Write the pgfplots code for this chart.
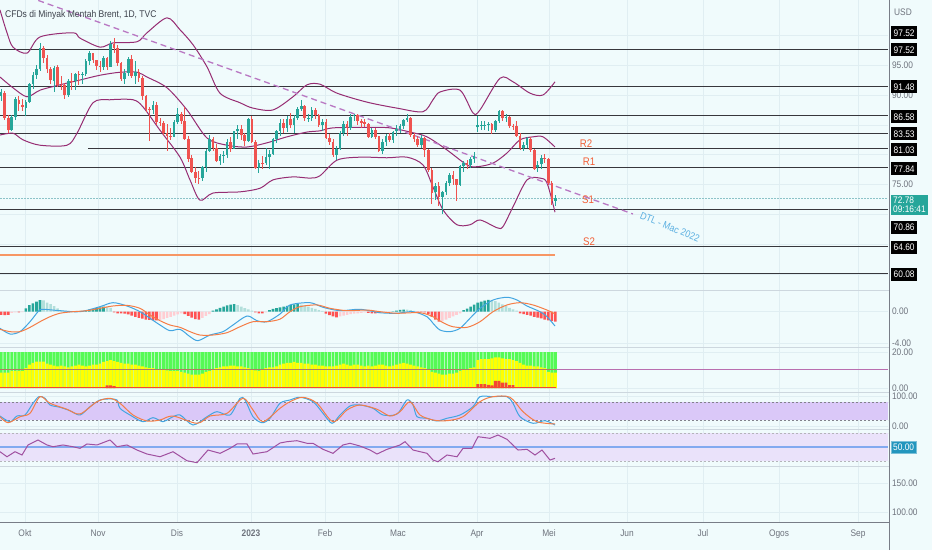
\documentclass[border=0pt]{standalone}
\usepackage{fontspec}
\setmainfont{Liberation Sans}[FakeStretch=0.88]
\usepackage{pgfplots}
\usepackage{pgfplotstable}
\pgfplotsset{compat=1.18}
\definecolor{bg}{RGB}{240,251,252}
\definecolor{gridc}{RGB}{224,238,242}
\definecolor{sepc}{RGB}{205,215,222}
\definecolor{cup}{RGB}{38,166,154}
\definecolor{cdn}{RGB}{239,83,80}
\definecolor{bbc}{RGB}{150,45,115}
\definecolor{tlc}{RGB}{185,120,195}
\definecolor{srlab}{RGB}{242,95,55}
\definecolor{dtlc}{RGB}{90,175,225}
\definecolor{lvl}{RGB}{55,55,60}
\definecolor{orl}{RGB}{247,150,100}
\definecolor{curp}{RGB}{140,195,200}
\definecolor{macdb}{RGB}{66,165,225}
\definecolor{macdo}{RGB}{245,125,70}
\definecolor{hA}{RGB}{38,166,154}
\definecolor{hB}{RGB}{178,223,219}
\definecolor{hC}{RGB}{255,82,82}
\definecolor{hD}{RGB}{255,205,210}
\definecolor{sqg}{RGB}{85,250,85}
\definecolor{sqy}{RGB}{255,255,0}
\definecolor{sqr}{RGB}{245,70,50}
\definecolor{sqbrown}{RGB}{175,125,95}
\definecolor{sqpurp}{RGB}{185,110,175}
\definecolor{stb}{RGB}{218,200,248}
\definecolor{stl}{RGB}{130,130,140}
\definecolor{rsib}{RGB}{234,226,250}
\definecolor{rsil}{RGB}{160,80,160}
\definecolor{rsimid}{RGB}{130,170,240}
\definecolor{labc}{RGB}{110,115,125}
\definecolor{titc}{RGB}{60,65,75}
\definecolor{tealbox}{RGB}{38,166,154}
\definecolor{rsibox}{RGB}{35,150,190}
\definecolor{axc}{RGB}{120,125,135}
\newcommand\lab{\fontsize{9.5}{10}\selectfont}

\pgfplotstableread{
i o h l c sq r m k
-11 89.8 91.0 89.0 90.46 8.5 0 -0.40 3
-10 90.3 90.6 85.8 86.15 8.5 0 -0.45 3
-9 86.1 86.6 83.7 84.06 8.5 0 -0.40 3
-8 84.1 86.6 83.9 86.27 9.5 0 -0.15 4
-7 86.3 89.6 85.8 89.32 9.5 0 -0.10 4
-6 89.2 89.9 87.3 88.49 9.5 0 -0.10 3
-5 88.4 89.4 87.3 87.96 9.5 0 -0.05 4
-4 87.9 89.2 86.5 88.86 11 0 0.43 1
-3 88.9 92.0 88.6 91.80 13 0 0.85 1
-2 91.8 93.9 91.0 93.37 14 0 1.06 1
-1 93.4 95.0 92.6 94.42 14.6 0 1.28 1
0 94.4 98.7 94.0 97.92 14.6 0 1.49 1
1 97.9 98.2 95.4 96.19 14.6 0 1.45 2
2 96.2 96.7 93.6 94.29 13.5 0 1.15 2
3 94.3 94.6 91.8 92.45 13 0 0.98 2
4 92.4 94.9 90.5 94.57 12.5 0 0.72 2
5 94.6 95.0 91.4 91.63 12 0 0.43 2
6 91.7 93.2 90.8 91.62 12.5 0 0.21 2
7 91.6 92.0 89.4 90.03 12 0 0.10 2
8 90.0 92.6 89.6 92.41 11.5 0 0.08 2
9 92.4 93.6 90.8 92.38 12 0 0.05 2
10 92.4 93.7 90.9 93.50 12.5 0 0.06 1
11 93.5 94.0 91.7 93.26 13 0 0.08 1
12 93.3 93.9 91.9 93.52 12.5 0 0.10 1
13 93.5 96.0 93.2 95.69 12 0 0.15 1
14 95.7 97.3 95.0 96.96 12.5 0 0.25 1
15 97.0 97.0 95.4 95.77 13 0 0.35 1
16 95.8 95.9 94.2 94.83 13 0 0.45 1
17 94.8 95.6 93.9 94.65 13.5 0 0.55 1
18 94.7 96.5 94.2 96.16 14.5 0 0.64 1
19 96.2 96.4 94.2 94.67 15 1.5 0.60 2
20 94.7 99.0 94.6 98.57 15.5 1.5 0.50 2
21 98.6 99.6 97.1 97.92 15 1.0 -0.10 3
22 97.9 98.4 94.9 95.36 14.5 0 -0.20 3
23 95.4 95.5 92.3 92.65 14 0 -0.20 3
24 92.7 94.3 91.9 93.67 13.5 0 -0.25 3
25 93.7 96.3 93.2 95.99 13.5 0 -0.35 3
26 96.0 96.7 92.9 93.14 13 0 -0.50 3
27 93.1 95.6 91.8 93.86 13 0 -0.65 3
28 93.9 94.3 92.2 92.86 12.5 0 -0.80 3
29 92.9 93.1 89.2 89.78 12 0 -0.90 3
30 89.8 90.0 87.2 87.62 11.5 0 -1.00 3
31 87.6 88.0 82.3 87.45 11 0 -1.06 3
32 87.5 89.0 86.9 88.36 11 0 -1.10 3
33 88.4 88.9 84.9 85.41 10.5 0 -1.10 3
34 85.4 86.1 84.8 85.34 10.5 0 -1.05 4
35 85.3 85.6 83.3 83.63 10 0 -0.95 4
36 83.6 85.2 80.6 83.19 9.8 0 -0.80 4
37 83.2 84.4 82.4 83.03 9.5 0 -0.65 4
38 83.0 85.8 82.9 85.43 9.5 0 -0.50 4
39 85.4 87.8 85.1 86.88 9.5 0 -0.35 4
40 86.9 87.2 85.1 85.57 9 0 -0.20 4
41 85.6 88.0 82.4 82.68 8.5 0 -0.30 3
42 82.7 83.1 78.8 79.35 8 0 -0.55 3
43 79.4 79.9 76.9 77.17 7.5 0 -0.75 3
44 77.2 77.9 75.2 76.15 7.5 0 -0.95 3
45 76.2 77.3 75.1 76.10 7.5 0 -1.00 3
46 76.1 78.2 75.6 77.99 8 0 -0.80 4
47 78.0 80.9 77.2 80.68 9 0 -0.55 4
48 80.7 83.3 80.4 82.70 9.5 0 -0.30 4
49 82.7 83.0 80.6 81.21 10 0 0.13 1
50 81.2 81.8 78.8 79.04 11 0 0.30 1
51 79.0 80.2 78.3 79.80 11.5 0 0.50 1
52 79.8 80.7 78.6 79.99 12 0 0.65 1
53 80.0 82.6 79.5 82.20 12 0 0.80 1
54 82.2 83.0 80.4 80.98 12.5 0 0.90 1
55 81.0 84.0 80.9 83.92 12.5 0 0.98 1
56 83.9 85.0 82.7 84.33 12 0 0.85 2
57 84.3 84.9 82.4 83.26 12 0 0.65 2
58 83.3 83.6 81.5 82.26 11.5 0 0.45 2
59 82.3 86.1 82.1 85.91 11 0 0.30 2
60 85.9 86.5 81.9 82.10 10.5 0 0.15 2
61 82.1 82.4 77.7 77.84 9.8 0 -0.10 3
62 77.8 79.2 77.0 78.69 9.5 0 -0.20 3
63 78.7 79.8 77.6 78.57 10 0 -0.20 3
64 78.6 81.2 78.3 79.65 11 0 -0.10 4
65 79.7 80.8 77.6 80.10 11.5 0 0.20 1
66 80.1 82.8 79.9 82.67 11.5 0 0.35 1
67 82.7 84.2 82.0 84.03 12 0 0.45 1
68 84.0 85.9 83.1 85.28 13 0 0.55 1
69 85.3 85.9 83.6 84.46 13.5 0 0.65 1
70 84.5 86.4 83.8 85.92 14 0 0.75 1
71 85.9 87.0 84.5 84.98 14 0 0.85 1
72 85.0 86.6 83.6 86.16 14.5 0 0.95 1
73 86.2 88.0 85.8 87.63 14 0 0.98 1
74 87.6 89.1 87.3 88.19 14 0 0.90 2
75 88.2 88.3 85.6 86.13 13.5 0 0.80 2
76 86.1 86.9 85.5 86.12 13.5 0 0.65 2
77 86.1 88.0 85.7 87.47 13 0 0.50 2
78 87.5 87.8 86.0 86.66 13 0 0.35 2
79 86.7 86.8 84.6 84.90 12.5 0 0.20 2
80 84.9 85.9 84.0 85.46 12.5 0 0.10 2
81 85.5 86.0 82.6 82.84 12 0 -0.25 3
82 82.8 83.4 81.7 82.17 12 0 -0.45 3
83 82.2 82.6 79.7 79.94 12 0 -0.60 3
84 80.0 81.4 79.2 80.99 12.5 0 -0.72 3
85 81.0 83.9 80.8 83.69 13 0 -0.60 4
86 83.7 85.6 83.1 85.09 13.5 0 -0.50 4
87 85.1 85.6 83.2 84.50 13 0 -0.40 4
88 84.5 86.9 84.2 86.39 12.5 0 -0.30 4
89 86.4 86.9 85.6 86.61 13 0 -0.25 4
90 86.6 86.8 84.9 85.58 13 0 -0.20 4
91 85.6 85.9 84.4 85.38 12.5 0 -0.15 4
92 85.4 86.0 84.6 85.14 12 0 -0.10 4
93 85.1 85.3 82.8 83.00 12.5 0 -0.15 3
94 83.0 84.4 82.8 84.07 12 0 -0.20 3
95 84.1 84.5 82.6 83.05 12.5 0 -0.22 3
96 83.1 83.2 80.4 80.60 13 0 -0.20 4
97 80.6 82.6 80.1 82.21 13 0 -0.15 4
98 82.2 83.5 81.4 83.16 12.5 0 -0.10 4
99 83.2 83.7 82.1 82.45 12 0 -0.05 4
100 82.5 84.0 82.0 83.89 12.5 0 0.05 1
101 83.9 84.9 83.2 84.31 13 0 0.15 1
102 84.3 85.2 83.6 84.75 13.5 0 0.22 1
103 84.8 86.0 84.3 85.83 14 0 0.25 1
104 85.8 86.8 85.4 86.18 13.5 0 0.25 2
105 86.2 86.3 83.0 83.29 13 0 0.20 2
106 83.3 83.6 82.2 82.66 12.5 0 0.10 2
107 82.7 83.2 81.3 81.59 12 0 -0.05 3
108 81.6 83.3 81.1 82.78 11.5 0 -0.05 3
109 82.8 83.0 79.6 80.77 11 0 -0.10 3
110 80.8 81.0 77.2 77.45 10.5 0 -0.30 3
111 77.5 77.8 71.7 73.69 9 0 -0.65 3
112 73.7 75.3 72.5 74.70 8.5 0 -1.00 3
113 74.7 75.5 71.4 72.97 8 0 -1.28 3
114 73.0 74.0 70.1 73.79 7.5 0 -1.20 4
115 73.8 75.6 73.2 75.32 7.5 0 -1.00 4
116 75.3 77.0 74.8 76.69 8 0 -0.80 4
117 76.7 77.3 74.9 75.91 8 0 -0.60 4
118 75.9 76.0 72.3 74.99 8.5 0 -0.40 4
119 75.0 78.3 74.8 78.12 9.5 0 -0.20 4
120 78.1 79.0 77.1 78.65 10 0 0.20 1
121 78.7 79.2 77.7 78.28 10.5 0 0.40 1
122 78.3 79.6 77.8 79.27 11 0 0.65 1
123 79.3 80.5 78.6 79.77 11.5 0 0.90 1
124 84.6 86.4 83.8 84.93 15.5 2.2 1.15 1
125 84.9 85.6 84.1 84.94 16 2.2 1.30 1
126 84.9 85.7 84.1 84.99 16 2.2 1.40 1
127 85.0 85.4 84.0 85.12 16 1.8 1.50 1
128 85.1 85.3 83.5 84.18 16.5 1.5 1.45 2
129 84.2 85.8 83.8 85.61 17 4.0 1.35 2
130 85.6 87.5 85.3 87.33 17 4.0 1.15 2
131 87.3 87.5 85.6 86.09 16.5 3.0 0.95 2
132 86.1 86.8 85.5 86.31 16 3.0 0.72 2
133 86.3 86.5 84.4 84.76 16 1.6 0.50 2
134 84.8 85.2 84.1 84.77 15.5 1.6 0.30 2
135 84.8 85.6 82.9 83.12 15 0 0.13 2
136 83.1 83.6 80.8 81.10 14 0 -0.20 3
137 81.1 82.2 80.6 81.66 13 0 -0.30 3
138 81.7 83.0 81.2 82.73 12.5 0 -0.40 3
139 82.7 83.0 80.4 80.77 12.5 0 -0.50 3
140 80.8 81.0 77.4 77.69 12 0 -0.65 3
141 78.0 79.0 77.2 78.37 12 0 -0.75 3
142 78.4 80.0 77.6 79.54 11.5 0 -0.85 3
143 79.5 80.2 78.7 79.31 11 0 -1.00 3
144 79.3 79.4 74.9 75.32 9 0 -1.10 3
145 75.3 75.6 71.6 72.33 8.5 0 -1.20 3
146 72.3 73.3 71.4 72.78 8.5 0 -1.28 3
}\bars

\pgfplotstableread{
x p
0 104.2
7 100.4
13 98.0
27 97.0
40 99.7
73 100.4
80 99.5
100 98.0
113 98.7
137 98.9
147 100.4
167 102.9
180 100.9
193 98.4
207 94.7
220 90.3
240 88.7
253 87.8
273 87.5
293 89.7
307 91.7
320 91.8
337 90.3
367 88.8
397 87.8
423 87.2
433 89.2
440 90.5
460 90.8
473 87.0
480 87.5
500 92.8
513 92.2
530 90.3
543 90.0
555 92.2
}\bbu

\pgfplotstableread{
x p
0 93.0
13 91.2
27 89.7
40 90.8
60 91.7
80 92.5
100 93.3
120 93.8
137 93.8
147 93.0
167 91.2
187 87.5
207 82.8
227 81.6
247 81.3
267 82.0
287 83.0
307 83.8
320 84.0
333 84.5
367 84.6
390 84.5
410 83.8
427 83.0
447 80.8
467 78.3
477 78.0
493 78.6
507 80.3
520 82.5
533 83.0
543 83.0
555 81.3
}\bbm

\pgfplotstableread{
x p
0 83.3
13 83.6
23 82.5
40 81.6
67 81.6
77 83.6
93 88.7
110 89.2
133 89.2
143 88.0
160 84.1
180 79.6
190 75.8
200 72.4
213 73.6
240 73.8
260 74.4
273 75.8
293 76.3
310 76.1
320 76.5
337 79.1
360 79.6
387 79.5
407 79.6
423 78.3
433 74.6
443 70.8
457 68.3
470 68.3
480 69.1
497 67.8
503 68.0
513 71.3
527 75.8
540 76.1
547 75.3
555 70.4
}\bbl

\pgfplotstableread{
x v
0 -2.12
10 -2.85
20 -2.55
30 -1.28
38 0.00
42 0.31
60 0.13
80 0.00
100 0.64
113 1.15
127 0.73
140 0.00
150 -0.84
160 -1.70
170 -2.43
180 -2.25
190 -3.19
198 -3.70
210 -2.98
223 -2.55
233 -1.70
247 -0.55
257 -1.15
267 -1.28
280 -0.30
290 0.86
310 1.15
323 0.56
340 0.13
360 0.31
380 -0.13
397 -0.20
413 0.00
427 -0.64
433 -1.48
440 -2.34
450 -2.55
460 -2.12
470 -0.84
480 0.43
493 1.49
507 1.84
517 1.49
527 0.73
540 0.00
547 -0.64
555 -1.83
}\macdB

\pgfplotstableread{
x v
0 -2.25
10 -2.55
20 -2.55
30 -2.00
40 -1.28
50 -0.64
60 -0.20
73 0.00
87 0.13
100 0.43
113 0.73
127 0.81
140 0.43
150 -0.42
160 -1.15
170 -1.70
180 -2.00
190 -2.55
200 -2.98
213 -2.98
227 -2.68
240 -1.92
253 -1.28
267 -1.28
280 -0.95
290 0.00
300 0.64
317 0.86
330 0.43
347 0.13
367 0.21
380 0.00
397 -0.20
420 -0.13
433 -0.64
443 -1.40
453 -1.92
467 -2.00
480 -1.28
493 0.00
507 0.86
520 1.15
533 0.86
547 0.21
555 -0.29
}\macdO

\pgfplotstableread{
x v
0 33.3
10 14.3
17 33.3
25 36.7
33 75.7
39 98.0
45 92.3
50 70.0
60 62.3
70 51.0
80 36.7
90 64.3
100 86.7
110 90.0
117 86.7
120 59.0
130 36.7
143 14.3
153 27.7
163 14.3
170 25.7
180 36.7
193 3.3
207 31.0
217 47.7
230 36.7
240 92.3
245 86.7
253 31.0
262 11.0
270 25.7
280 75.7
290 86.7
300 95.7
313 81.0
323 42.3
332 9.0
340 36.7
350 66.7
360 70.0
373 59.0
383 36.7
397 40.0
407 86.7
413 70.0
417 31.0
427 25.7
437 16.7
447 25.7
460 36.7
473 64.3
480 97.7
493 97.7
507 97.7
513 75.7
520 31.0
533 9.0
545 17.7
555 3.3
}\stK

\pgfplotstableread{
x v
0 31.0
8 11.0
20 31.0
30 42.3
40 97.7
50 75.7
67 55.7
80 40.0
97 81.0
110 92.3
120 75.7
133 36.7
147 16.7
160 20.0
173 33.3
197 9.0
210 33.3
227 42.3
243 92.3
253 53.3
263 14.3
280 59.0
290 81.0
303 95.7
317 75.7
333 14.3
347 53.3
360 70.0
377 55.7
390 33.3
400 47.7
410 81.0
420 36.7
433 20.0
447 17.7
463 31.0
480 81.0
493 97.7
510 95.7
523 47.7
537 14.3
555 6.7
}\stD

\pgfplotstableread{
x v
0 43.3
7 36.1
15 43.3
22 38.6
28 52.9
38 60.0
47 52.9
53 50.4
63 52.9
73 50.4
80 48.1
87 54.3
97 52.9
110 60.0
117 50.4
127 52.9
137 45.7
147 40.0
160 36.1
173 43.3
187 30.4
197 27.6
208 45.7
220 41.0
230 48.1
237 54.3
247 54.3
253 40.0
267 43.3
280 55.7
287 57.6
297 59.0
307 55.3
313 55.3
323 46.7
333 41.0
343 52.9
350 55.3
360 51.4
370 45.7
377 40.0
387 46.7
400 52.9
405 57.6
413 45.7
427 41.0
433 31.4
438 29.0
447 38.6
457 36.1
463 48.1
472 48.1
478 64.7
490 62.4
498 67.1
507 61.0
518 45.7
527 46.7
535 38.6
542 45.7
550 31.4
555 33.9
}\rsi

\pgfplotsset{tv/.style={
  scale only axis, width=888pt, xmin=0, xmax=888, anchor=south west,
  axis line style={draw=none}, major tick length=0pt, tick style={draw=none},
  xtick={25,98,177,251,325,398,477,549,627,703,779,858},
  xticklabels={}, xmajorgrids, ymajorgrids,
  grid style={draw=gridc, line width=0.7pt},
  yticklabel pos=right,
  yticklabel style={font=\lab, text=labc, anchor=west, xshift=0.5pt},
}}
\pgfplotsset{candle/.style={mark=none, draw opacity=0}}

\begin{document}
\begin{tikzpicture}
\useasboundingbox (0pt,0pt) rectangle (932pt,550pt);
\fill[bg] (0pt,0pt) rectangle (932pt,550pt);

% ---------------- main price panel
\begin{axis}[tv, at={(0pt,260pt)}, height=290pt, ymin=57.39, ymax=105.88,
  ytick={60,65,70,75,80,85,90,95,100},
  yticklabels={{},{},{},75.00,{},{},90.00,95.00,{}}]
\addplot[lvl, line width=1pt] coordinates {(0,97.52)(888,97.52)};
\addplot[lvl, line width=1pt] coordinates {(0,91.48)(888,91.48)};
\addplot[lvl, line width=1pt] coordinates {(0,86.58)(888,86.58)};
\addplot[lvl, line width=1pt] coordinates {(0,83.53)(888,83.53)};
\addplot[lvl, line width=1pt] coordinates {(88,81.03)(888,81.03)};
\addplot[lvl, line width=1pt] coordinates {(0,77.84)(888,77.84)};
\addplot[lvl, line width=1pt] coordinates {(0,70.86)(888,70.86)};
\addplot[lvl, line width=1pt] coordinates {(0,64.60)(888,64.60)};
\addplot[lvl, line width=1pt] coordinates {(0,60.08)(888,60.08)};
\addplot[orl, line width=1.3pt] coordinates {(0,63.24)(555,63.24)};
\addplot[curp, line width=0.8pt, dash pattern=on 1.5pt off 1.5pt] coordinates {(0,72.78)(888,72.78)};
\addplot[bbc, line width=1pt, smooth, tension=0.5] table[x=x,y=p] {\bbu};
\addplot[bbc, line width=1pt, smooth, tension=0.5] table[x=x,y=p] {\bbm};
\addplot[bbc, line width=1pt, smooth, tension=0.5] table[x=x,y=p] {\bbl};
\addplot[tlc, line width=1.3pt, dash pattern=on 6pt off 4pt] coordinates {(10,107.5)(633,70.1)};
% wicks
\addplot[candle, restrict expr to domain={\thisrow{c}-\thisrow{o}}{0:100},
  error bars/.cd, y dir=both, y explicit, error mark=none,
  error bar style={draw=cup, draw opacity=1, line width=0.8pt}]
  table[x expr=40+3.53*\thisrow{i}, y=c, y error plus expr=\thisrow{h}-\thisrow{c}, y error minus expr=\thisrow{c}-\thisrow{l}] {\bars};
\addplot[candle, restrict expr to domain={\thisrow{c}-\thisrow{o}}{-100:-0.001},
  error bars/.cd, y dir=both, y explicit, error mark=none,
  error bar style={draw=cdn, draw opacity=1, line width=0.8pt}]
  table[x expr=40+3.53*\thisrow{i}, y=c, y error plus expr=\thisrow{h}-\thisrow{c}, y error minus expr=\thisrow{c}-\thisrow{l}] {\bars};
% bodies
\addplot[candle, restrict expr to domain={\thisrow{c}-\thisrow{o}}{0:100},
  error bars/.cd, y dir=plus, y explicit, error mark=none,
  error bar style={draw=cup, draw opacity=1, line width=2.6pt}]
  table[x expr=40+3.53*\thisrow{i}, y=o, y error expr=\thisrow{c}-\thisrow{o}] {\bars};
\addplot[candle, restrict expr to domain={\thisrow{c}-\thisrow{o}}{-100:-0.001},
  error bars/.cd, y dir=plus, y explicit, error mark=none,
  error bar style={draw=cdn, draw opacity=1, line width=2.6pt}]
  table[x expr=40+3.53*\thisrow{i}, y=c, y error expr=\thisrow{o}-\thisrow{c}] {\bars};
\node[text=srlab, font=\fontsize{11}{11}\selectfont] at (axis cs:586,81.8) {R2};
\node[text=srlab, font=\fontsize{11}{11}\selectfont] at (axis cs:589,78.84) {R1};
\node[text=srlab, font=\fontsize{11}{11}\selectfont] at (axis cs:588,72.44) {S1};
\node[text=srlab, font=\fontsize{11}{11}\selectfont] at (axis cs:589,65.46) {S2};
\node[text=dtlc, rotate=-22, font=\fontsize{10}{10}\selectfont] at (axis cs:670,67.9) {DTL - Mac 2022};
\end{axis}

% ---------------- MACD
\begin{axis}[tv, at={(0pt,203pt)}, height=57pt, ymin=-4.51, ymax=2.77,
  ytick={-4,0}, yticklabels={-4.00,0.00}]
\addplot[ybar, bar width=2.6pt, bar shift=0pt, fill=hA, draw=none, restrict expr to domain={\thisrow{k}}{0.5:1.5}]
  table[x expr=40+3.53*\thisrow{i}, y=m] {\bars};
\addplot[ybar, bar width=2.6pt, bar shift=0pt, fill=hB, draw=none, restrict expr to domain={\thisrow{k}}{1.5:2.5}]
  table[x expr=40+3.53*\thisrow{i}, y=m] {\bars};
\addplot[ybar, bar width=2.6pt, bar shift=0pt, fill=hC, draw=none, restrict expr to domain={\thisrow{k}}{2.5:3.5}]
  table[x expr=40+3.53*\thisrow{i}, y=m] {\bars};
\addplot[ybar, bar width=2.6pt, bar shift=0pt, fill=hD, draw=none, restrict expr to domain={\thisrow{k}}{3.5:4.5}]
  table[x expr=40+3.53*\thisrow{i}, y=m] {\bars};
\addplot[macdb, line width=1pt, smooth, tension=0.5] table[x=x,y=v] {\macdB};
\addplot[macdo, line width=1pt, smooth, tension=0.5] table[x=x,y=v] {\macdO};
\end{axis}

% ---------------- green / yellow panel
\begin{axis}[tv, at={(0pt,158pt)}, height=45pt, ymin=-2.22, ymax=22.78,
  ytick={0,20}, yticklabels={0.00,20.00}]
\addplot[ybar, bar width=2.9pt, bar shift=0pt, fill=sqg, draw=none]
  table[x expr=40+3.53*\thisrow{i}, y expr=20] {\bars};
\addplot[ybar, bar width=2.9pt, bar shift=0pt, fill=sqy, draw=none]
  table[x expr=40+3.53*\thisrow{i}, y=sq] {\bars};
\addplot[ybar, bar width=2.9pt, bar shift=0pt, fill=sqr, draw=none, restrict expr to domain={\thisrow{r}}{0.01:100}]
  table[x expr=40+3.53*\thisrow{i}, y=r] {\bars};
\addplot[sqbrown, line width=1.6pt] coordinates {(0,10.3)(556,10.3)};
\addplot[sqpurp, line width=1.6pt] coordinates {(556,10.3)(888,10.3)};
\addplot[sqr, line width=1.2pt] coordinates {(0,0.2)(556,0.2)};
\end{axis}

% ---------------- stochastic
\begin{axis}[tv, at={(0pt,121pt)}, height=37pt, ymin=-10, ymax=113.3,
  ytick={0,100}, yticklabels={0.00,100.00}]
\addplot[fill=stb, draw=none] coordinates {(0,20)(888,20)(888,80)(0,80)};
\addplot[stl, line width=0.8pt, dash pattern=on 2pt off 2pt] coordinates {(0,80)(888,80)};
\addplot[stl, line width=0.8pt, dash pattern=on 2pt off 2pt] coordinates {(0,20)(888,20)};
\addplot[macdb, line width=1pt, smooth, tension=0.5] table[x=x,y=v] {\stK};
\addplot[macdo, line width=1pt, smooth, tension=0.5] table[x=x,y=v] {\stD};
\end{axis}

% ---------------- RSI
\begin{axis}[tv, at={(0pt,84pt)}, height=37pt, ymin=22.9, ymax=75.7,
  ytick={40}, yticklabels={{}}]
\addplot[fill=rsib, draw=none] coordinates {(0,30)(888,30)(888,70)(0,70)};
\addplot[stl!60, line width=0.8pt, dash pattern=on 2pt off 2pt] coordinates {(0,70)(888,70)};
\addplot[stl!60, line width=0.8pt, dash pattern=on 2pt off 2pt] coordinates {(0,30)(888,30)};
\addplot[rsimid, line width=1.2pt] coordinates {(0,50)(888,50)};
\addplot[rsil, line width=1pt] table[x=x,y=v] {\rsi};
\end{axis}

% ---------------- bottom empty panel with date axis
\begin{axis}[tv, at={(0pt,28pt)}, height=56pt, ymin=82.8, ymax=179.3,
  ytick={100,150}, yticklabels={100.00,150.00},
  xticklabels={Okt,Nov,Dis,\textbf{2023},Feb,Mac,Apr,Mei,Jun,Jul,Ogos,Sep},
  xticklabel style={font=\lab, text=labc, yshift=-4pt}]
\addplot[draw=none] coordinates {(0,100)(888,100)};
\end{axis}

% separators and frame
\foreach \yy in {260,203,158,121,84} \draw[sepc, line width=0.8pt] (0pt,\yy pt) -- (889pt,\yy pt);
\draw[axc, line width=0.8pt] (0pt,28pt) -- (889pt,28pt);
\draw[axc, line width=0.8pt] (889pt,0pt) -- (889pt,550pt);

% title
\node[anchor=west, text=titc, font=\fontsize{9.7}{10}\selectfont, inner sep=0pt] at (5pt,535pt) {CFDs di Minyak Mentah Brent, 1D, TVC};

% right price scale boxes
\node[anchor=west, text=labc, font=\lab, inner sep=0pt] at (894pt,538pt) {USD};
\foreach \yy/\lbl in {517/97.52, 500/97.52, 463/91.48, 433/86.58, 416/83.53, 400/81.03, 381/77.84, 323/70.86, 303/64.60, 276/60.08}
  \node[anchor=west, fill=black, text=white, font=\lab, inner xsep=2.5pt, inner ysep=0pt, minimum height=13pt] at (891pt,\yy pt) {\lbl};
\node[anchor=west, fill=tealbox, text=white, font=\lab, align=left, inner xsep=2pt, inner ysep=2pt] at (891pt,345pt) {72.78\\[-1pt]09:16:41};
\node[anchor=west, fill=rsibox, draw=rsibox!60, text=white, font=\lab, inner xsep=2pt, inner ysep=0pt, minimum height=12pt] at (891pt,103pt) {50.00};
\end{tikzpicture}
\end{document}
